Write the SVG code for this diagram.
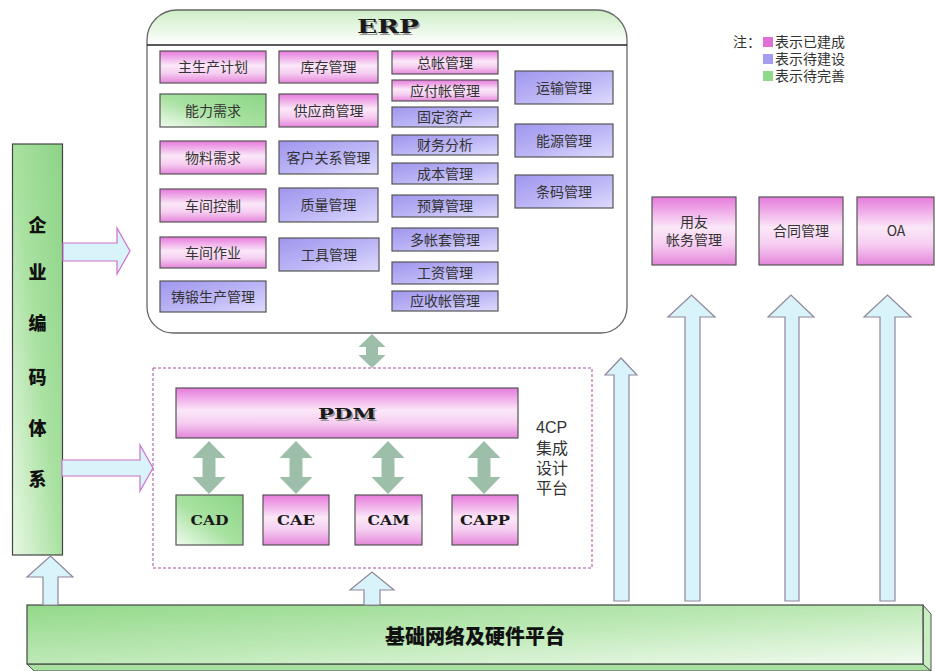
<svg xmlns="http://www.w3.org/2000/svg" width="935" height="671" viewBox="0 0 935 671">
<defs>
<linearGradient id="gPink" x1="0" y1="0" x2="0" y2="1">
<stop offset="0" stop-color="#e679dc"/>
<stop offset="0.45" stop-color="#fbe8f8"/>
<stop offset="0.7" stop-color="#f6cdf1"/>
<stop offset="1" stop-color="#e486da"/>
</linearGradient>
<linearGradient id="gPurple" x1="0" y1="0" x2="1" y2="1">
<stop offset="0" stop-color="#9f96ee"/>
<stop offset="0.55" stop-color="#bdb7f6"/>
<stop offset="1" stop-color="#dedbfc"/>
</linearGradient>
<linearGradient id="gGreen" x1="1" y1="0" x2="0" y2="1">
<stop offset="0" stop-color="#8cd587"/>
<stop offset="0.55" stop-color="#a9e2a2"/>
<stop offset="1" stop-color="#f0fbee"/>
</linearGradient>
<linearGradient id="gBar" x1="1" y1="0" x2="0" y2="1">
<stop offset="0" stop-color="#8cd486"/>
<stop offset="0.5" stop-color="#a9e1a1"/>
<stop offset="1" stop-color="#e8f8e4"/>
</linearGradient>
<linearGradient id="gBase" x1="0" y1="0" x2="1" y2="1">
<stop offset="0" stop-color="#93d98a"/>
<stop offset="0.5" stop-color="#bde9b6"/>
<stop offset="1" stop-color="#f2fbf0"/>
</linearGradient>
<linearGradient id="gHead" x1="0" y1="0" x2="0" y2="1">
<stop offset="0" stop-color="#cdeec6"/>
<stop offset="1" stop-color="#ffffff"/>
</linearGradient>
<style>
.box{stroke:#555;stroke-width:1.2}
.pink{fill:url(#gPink)}
.purple{fill:url(#gPurple)}
.green{fill:url(#gGreen)}
.t{font-family:"Noto Sans CJK SC","Noto Sans",sans-serif;font-size:14px;fill:#333;text-anchor:middle}
.tl{font-family:"Liberation Sans","Noto Sans CJK SC",sans-serif;fill:#333;text-anchor:start}
.tm{font-family:"Liberation Sans","Noto Sans CJK SC",sans-serif;font-size:14px;fill:#333;text-anchor:middle}
.title{font-family:"DejaVu Serif","Liberation Serif",serif;font-weight:bold;fill:#1a1a1a;text-anchor:middle}
.shadow{fill:#9a9a9a}
.heavy{font-family:"Noto Sans CJK SC",sans-serif;font-weight:900;fill:#111;text-anchor:middle}
.arrowH{fill:#d8f3fa;stroke:#cc70cc;stroke-width:1.2}
.arrowU{fill:#d8f3fa;stroke:#8f8799;stroke-width:1.2}
.dbl{fill:#9dbfa9}
</style>
</defs>
<rect width="935" height="671" fill="#ffffff"/>

<g id="erp">
<path d="M147,45 L147,40 A30,30 0 0 1 177,10 L597,10 A30,30 0 0 1 627,40 L627,45 Z" fill="url(#gHead)"/>
<path d="M177,10 L597,10 A30,30 0 0 1 627,40 L627,307 A26,26 0 0 1 601,333 L173,333 A26,26 0 0 1 147,307 L147,40 A30,30 0 0 1 177,10 Z" fill="none" stroke="#666" stroke-width="1.3"/>
<line x1="147" y1="45" x2="627" y2="45" stroke="#222" stroke-width="1.6"/>
<text class="title shadow" x="389.5" y="34.5" font-size="18" textLength="62" lengthAdjust="spacingAndGlyphs">ERP</text>
<text class="title" x="388" y="33" font-size="18" textLength="62" lengthAdjust="spacingAndGlyphs">ERP</text>
</g>

<g id="erp-col1">
<rect class="box pink" x="160" y="51" width="106" height="32"/><text class="t" x="213" y="72">主生产计划</text>
<rect class="box green" x="160" y="94" width="106" height="33"/><text class="t" x="213" y="115.5">能力需求</text>
<rect class="box pink" x="160" y="141" width="106" height="33"/><text class="t" x="213" y="162.5">物料需求</text>
<rect class="box pink" x="160" y="189" width="106" height="33"/><text class="t" x="213" y="210.5">车间控制</text>
<rect class="box pink" x="160" y="237" width="106" height="31"/><text class="t" x="213" y="257.5">车间作业</text>
<rect class="box purple" x="160" y="281" width="106" height="31"/><text class="t" x="213" y="301.5">铸锻生产管理</text>
</g>

<g id="erp-col2">
<rect class="box pink" x="279" y="51" width="99" height="32"/><text class="t" x="328.5" y="72">库存管理</text>
<rect class="box pink" x="279" y="94" width="99" height="33"/><text class="t" x="328.5" y="115.5">供应商管理</text>
<rect class="box purple" x="279" y="141" width="99" height="33"/><text class="t" x="328.5" y="162.5">客户关系管理</text>
<rect class="box purple" x="279" y="188" width="99" height="34"/><text class="t" x="328.5" y="210">质量管理</text>
<rect class="box purple" x="279" y="238" width="100" height="33"/><text class="t" x="329" y="259.5">工具管理</text>
</g>

<g id="erp-col3">
<rect class="box pink" x="392" y="51" width="106" height="23"/><text class="t" x="445" y="67.5">总帐管理</text>
<rect class="box pink" x="392" y="80" width="106" height="21"/><text class="t" x="445" y="95.5">应付帐管理</text>
<rect class="box purple" x="392" y="107" width="106" height="20"/><text class="t" x="445" y="122">固定资产</text>
<rect class="box purple" x="392" y="135" width="106" height="20"/><text class="t" x="445" y="150">财务分析</text>
<rect class="box purple" x="392" y="163" width="106" height="21"/><text class="t" x="445" y="178.5">成本管理</text>
<rect class="box purple" x="392" y="195" width="106" height="22"/><text class="t" x="445" y="211">预算管理</text>
<rect class="box purple" x="392" y="228" width="106" height="23"/><text class="t" x="445" y="244.5">多帐套管理</text>
<rect class="box purple" x="392" y="262" width="106" height="22"/><text class="t" x="445" y="278">工资管理</text>
<rect class="box purple" x="392" y="291" width="106" height="20"/><text class="t" x="445" y="306">应收帐管理</text>
</g>

<g id="erp-col4">
<rect class="box purple" x="515" y="71" width="98" height="33"/><text class="t" x="564" y="92.5">运输管理</text>
<rect class="box purple" x="515" y="124" width="98" height="33"/><text class="t" x="564" y="145.5">能源管理</text>
<rect class="box purple" x="515" y="175" width="98" height="33"/><text class="t" x="564" y="196.5">条码管理</text>
</g>

<g id="legend">
<text class="tl" font-size="14" x="733" y="47">注：</text>
<rect x="763" y="37" width="10" height="10" fill="#e070d6"/>
<text class="tl" font-size="14" x="775" y="47">表示已建成</text>
<rect x="763" y="54" width="10" height="10" fill="#a59cf2"/>
<text class="tl" font-size="14" x="775" y="64">表示待建设</text>
<rect x="763" y="71" width="10" height="10" fill="#8fd98a"/>
<text class="tl" font-size="14" x="775" y="81">表示待完善</text>
</g>

<g id="coding-system">
<rect x="12.5" y="144" width="50" height="411" fill="url(#gBar)" stroke="#444" stroke-width="1.2"/>
<text class="heavy" font-size="18" x="37.5" y="232">企</text>
<text class="heavy" font-size="18" x="37.5" y="279">业</text>
<text class="heavy" font-size="18" x="37.5" y="330">编</text>
<text class="heavy" font-size="18" x="37.5" y="384">码</text>
<text class="heavy" font-size="18" x="37.5" y="435">体</text>
<text class="heavy" font-size="18" x="37.5" y="486">系</text>
</g>

<g id="platform-4cp">
<rect x="153" y="368" width="439" height="200" fill="none" stroke="#a0509a" stroke-width="1" stroke-dasharray="3,2"/>
<text class="tl" font-size="16" x="536" y="433">4CP</text>
<text class="tl" font-size="16" x="536" y="454">集成</text>
<text class="tl" font-size="16" x="536" y="474">设计</text>
<text class="tl" font-size="16" x="536" y="494">平台</text>
</g>

<g id="pdm">
<rect class="box pink" x="176" y="388" width="342" height="50"/>
<text class="title shadow" x="348.5" y="420.5" font-size="15" textLength="58" lengthAdjust="spacingAndGlyphs">PDM</text>
<text class="title" x="347" y="419" font-size="15" textLength="58" lengthAdjust="spacingAndGlyphs">PDM</text>
</g>
<g id="cad">
<rect class="box green" x="176" y="495" width="67" height="50"/>
<text class="title" x="209.5" y="525" font-size="12" textLength="38" lengthAdjust="spacingAndGlyphs">CAD</text>
</g>
<g id="cae">
<rect class="box pink" x="263" y="495" width="66" height="50"/>
<text class="title" x="296" y="525" font-size="12" textLength="38" lengthAdjust="spacingAndGlyphs">CAE</text>
</g>
<g id="cam">
<rect class="box pink" x="355" y="495" width="67" height="50"/>
<text class="title" x="388.5" y="525" font-size="12" textLength="42" lengthAdjust="spacingAndGlyphs">CAM</text>
</g>
<g id="capp">
<rect class="box pink" x="452" y="495" width="66" height="50"/>
<text class="title" x="485" y="525" font-size="12" textLength="50" lengthAdjust="spacingAndGlyphs">CAPP</text>
</g>

<g id="yonyou">
<rect class="box pink" x="652" y="197" width="84" height="68"/>
<text class="tm" x="694" y="227">用友</text>
<text class="tm" x="694" y="245">帐务管理</text>
</g>
<g id="contract">
<rect class="box pink" x="759" y="197" width="84" height="68"/>
<text class="t" x="801" y="236">合同管理</text>
</g>
<g id="oa">
<rect class="box pink" x="857" y="197" width="77" height="68"/>
<text class="t" x="896" y="236">OA</text>
</g>

<g id="base-platform">
<polygon points="27,664 923,664 931,671 34,671" fill="#a8e0a0" stroke="#555" stroke-width="1"/>
<polygon points="923,605 931,614 931,671 923,664" fill="#c9eec3" stroke="#555" stroke-width="1"/>
<rect x="27" y="605" width="896" height="59" fill="url(#gBase)" stroke="#444" stroke-width="1.2"/>
<text class="heavy" font-size="20" x="475" y="644">基础网络及硬件平台</text>
</g>

<g id="connectors">
<path class="arrowH" d="M63,243 L117,243 L117,228 L130,251 L117,274 L117,261 L63,261 Z"/>
<path class="arrowH" d="M62,460 L140,460 L140,445 L153,468 L140,491 L140,476 L62,476 Z"/>
<path class="arrowU" d="M43,605 L43,577 L27,577 L50.5,556 L73,577 L58,577 L58,605 Z"/>
<path class="arrowU" d="M364,605 L364,590 L350,590 L372,572 L394,590 L380,590 L380,605 Z"/>
<path class="arrowU" d="M614,601 L614,375 L605,375 L621,358 L637,375 L629,375 L629,601 Z"/>
<path class="arrowU" d="M685,601 L685,317 L668,317 L691.5,295 L715,317 L700,317 L700,601 Z"/>
<path class="arrowU" d="M785,601 L785,317 L768,317 L791,295 L814,317 L799,317 L799,601 Z"/>
<path class="arrowU" d="M880,601 L880,317 L864,317 L887.5,295 L911,317 L895,317 L895,601 Z"/>
<path class="dbl" d="M372,334 L385.5,347 L378,347 L378,355 L385.5,355 L372,368 L358.5,355 L366,355 L366,347 L358.5,347 Z"/>
<path class="dbl" d="M209,441 L225.5,458 L215.5,458 L215.5,477 L225.5,477 L209,494 L192.5,477 L202.5,477 L202.5,458 L192.5,458 Z"/>
<path class="dbl" d="M296,441 L312.5,458 L302.5,458 L302.5,477 L312.5,477 L296,494 L279.5,477 L289.5,477 L289.5,458 L279.5,458 Z"/>
<path class="dbl" d="M388,441 L404.5,458 L394.5,458 L394.5,477 L404.5,477 L388,494 L371.5,477 L381.5,477 L381.5,458 L371.5,458 Z"/>
<path class="dbl" d="M484,441 L500.5,458 L490.5,458 L490.5,477 L500.5,477 L484,494 L467.5,477 L477.5,477 L477.5,458 L467.5,458 Z"/>
</g>
</svg>
